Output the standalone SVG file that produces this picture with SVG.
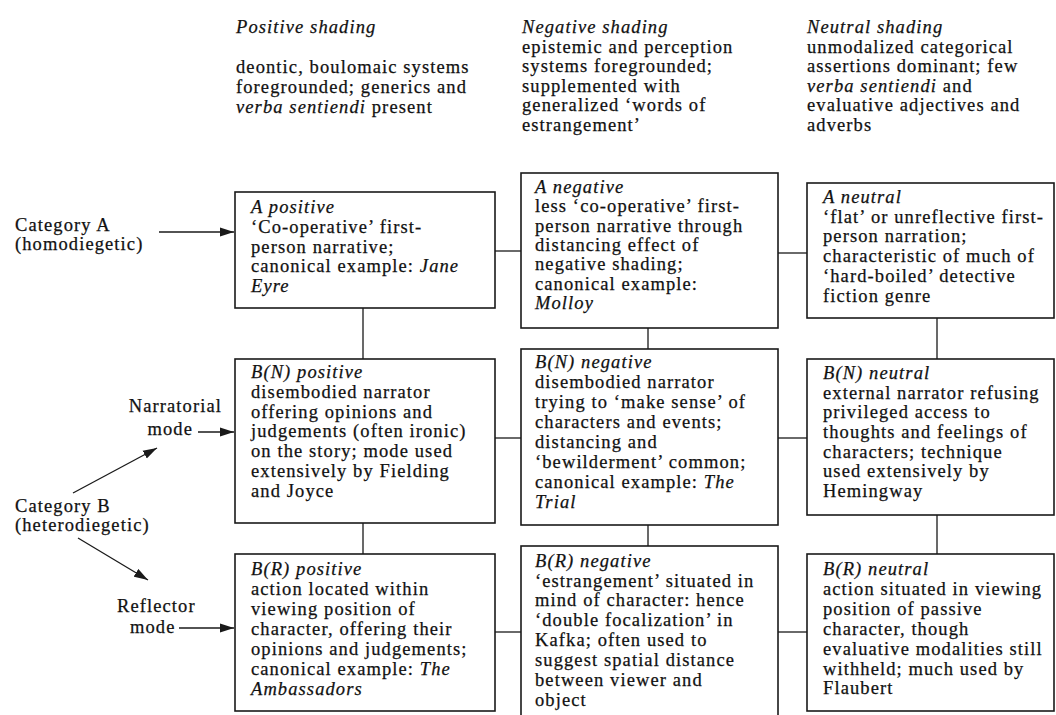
<svg xmlns="http://www.w3.org/2000/svg" width="1056" height="715" viewBox="0 0 1056 715">
<style>
text { font-family: "Liberation Serif", "Times New Roman", serif; font-size: 18.5px; fill: #111111; stroke: #111111; stroke-width: 0.25px; letter-spacing: 1.1px; }
.i { font-style: italic; }
.box { fill: #ffffff; stroke: #1a1a1a; stroke-width: 1.6; }
.ln { stroke: #1a1a1a; stroke-width: 1.3; fill: none; }
.ar { stroke: #1a1a1a; stroke-width: 1.3; fill: none; marker-end: url(#ah); }
</style>
<defs>
<marker id="ah" markerUnits="userSpaceOnUse" markerWidth="15" markerHeight="10" refX="14" refY="5" orient="auto">
<path d="M0,0.5 L14,5 L0,9.5 z" fill="#1a1a1a"/>
</marker>
</defs>
<rect width="1056" height="715" fill="#ffffff"/>

<g id="headers">
<text x="236" y="33" class="i">Positive shading</text>
<text x="236" y="73">deontic, boulomaic systems</text>
<text x="236" y="93">foregrounded; generics and</text>
<text x="236" y="113"><tspan class="i">verba sentiendi</tspan> present</text>

<text x="522" y="33" class="i">Negative shading</text>
<text x="522" y="53">epistemic and perception</text>
<text x="522" y="72">systems foregrounded;</text>
<text x="522" y="92">supplemented with</text>
<text x="522" y="111">generalized ‘words of</text>
<text x="522" y="131">estrangement’</text>

<text x="807" y="33" class="i">Neutral shading</text>
<text x="807" y="53">unmodalized categorical</text>
<text x="807" y="72">assertions dominant; few</text>
<text x="807" y="92"><tspan class="i">verba sentiendi</tspan> and</text>
<text x="807" y="111">evaluative adjectives and</text>
<text x="807" y="131">adverbs</text>
</g>

<g id="left-labels">
<text x="15" y="231">Category A</text>
<text x="15" y="250">(homodiegetic)</text>
<text x="222" y="412" text-anchor="end">Narratorial</text>
<text x="193" y="435" text-anchor="end">mode</text>
<text x="15" y="512">Category B</text>
<text x="15" y="531">(heterodiegetic)</text>
<text x="117" y="612">Reflector</text>
<text x="130" y="633">mode</text>
</g>

<g id="connectors">
<path class="ln" d="M495 251 H521"/>
<path class="ln" d="M778 253 H807"/>
<path class="ln" d="M495 438 H521"/>
<path class="ln" d="M778 438 H807"/>
<path class="ln" d="M495 632 H521"/>
<path class="ln" d="M778 632 H807"/>
<path class="ln" d="M363 308 V359 M363 523 V554"/>
<path class="ln" d="M648 328 V349 M648 525 V546"/>
<path class="ln" d="M937 318 V359 M937 515 V554"/>
<path class="ar" d="M159 232 H234"/>
<path class="ar" d="M198 432 H234"/>
<path class="ar" d="M73 493 L157 448"/>
<path class="ar" d="M78 538 L148 580"/>
<path class="ar" d="M179 628 H234"/>
</g>

<g id="a-positive">
<rect class="box" x="235" y="192" width="260" height="116"/>
<text x="251" y="213" class="i">A positive</text>
<text x="251" y="233">‘Co-operative’ first-</text>
<text x="251" y="253">person narrative;</text>
<text x="251" y="272">canonical example: <tspan class="i">Jane</tspan></text>
<text x="251" y="292" class="i">Eyre</text>
</g>

<g id="a-negative">
<rect class="box" x="521" y="173" width="257" height="155"/>
<text x="535" y="193" class="i">A negative</text>
<text x="535" y="212">less ‘co-operative’ first-</text>
<text x="535" y="232">person narrative through</text>
<text x="535" y="251">distancing effect of</text>
<text x="535" y="270">negative shading;</text>
<text x="535" y="290">canonical example:</text>
<text x="535" y="309" class="i">Molloy</text>
</g>

<g id="a-neutral">
<rect class="box" x="807" y="183" width="247" height="135"/>
<text x="823" y="203" class="i">A neutral</text>
<text x="823" y="223">‘flat’ or unreflective first-</text>
<text x="823" y="242">person narration;</text>
<text x="823" y="262">characteristic of much of</text>
<text x="823" y="282">‘hard-boiled’ detective</text>
<text x="823" y="302">fiction genre</text>
</g>

<g id="bn-positive">
<rect class="box" x="235" y="359" width="260" height="164"/>
<text x="251" y="378" class="i">B(N) positive</text>
<text x="251" y="398">disembodied narrator</text>
<text x="251" y="418">offering opinions and</text>
<text x="251" y="437">judgements (often ironic)</text>
<text x="251" y="457">on the story; mode used</text>
<text x="251" y="477">extensively by Fielding</text>
<text x="251" y="497">and Joyce</text>
</g>

<g id="bn-negative">
<rect class="box" x="521" y="349" width="257" height="176"/>
<text x="535" y="368" class="i">B(N) negative</text>
<text x="535" y="388">disembodied narrator</text>
<text x="535" y="408">trying to ‘make sense’ of</text>
<text x="535" y="428">characters and events;</text>
<text x="535" y="448">distancing and</text>
<text x="535" y="468">‘bewilderment’ common;</text>
<text x="535" y="488">canonical example: <tspan class="i">The</tspan></text>
<text x="535" y="508" class="i">Trial</text>
</g>

<g id="bn-neutral">
<rect class="box" x="807" y="359" width="247" height="156"/>
<text x="823" y="379" class="i">B(N) neutral</text>
<text x="823" y="399">external narrator refusing</text>
<text x="823" y="418">privileged access to</text>
<text x="823" y="438">thoughts and feelings of</text>
<text x="823" y="458">characters; technique</text>
<text x="823" y="477">used extensively by</text>
<text x="823" y="497">Hemingway</text>
</g>

<g id="br-positive">
<rect class="box" x="235" y="554" width="260" height="157"/>
<text x="251" y="575" class="i">B(R) positive</text>
<text x="251" y="595">action located within</text>
<text x="251" y="615">viewing position of</text>
<text x="251" y="635">character, offering their</text>
<text x="251" y="655">opinions and judgements;</text>
<text x="251" y="675">canonical example: <tspan class="i">The</tspan></text>
<text x="251" y="695" class="i">Ambassadors</text>
</g>

<g id="br-negative">
<rect class="box" x="521" y="546" width="257" height="172"/>
<text x="535" y="567" class="i">B(R) negative</text>
<text x="535" y="587">‘estrangement’ situated in</text>
<text x="535" y="606">mind of character: hence</text>
<text x="535" y="626">‘double focalization’ in</text>
<text x="535" y="646">Kafka; often used to</text>
<text x="535" y="666">suggest spatial distance</text>
<text x="535" y="686">between viewer and</text>
<text x="535" y="706">object</text>
</g>

<g id="br-neutral">
<rect class="box" x="807" y="554" width="247" height="157"/>
<text x="823" y="575" class="i">B(R) neutral</text>
<text x="823" y="595">action situated in viewing</text>
<text x="823" y="615">position of passive</text>
<text x="823" y="635">character, though</text>
<text x="823" y="655">evaluative modalities still</text>
<text x="823" y="675">withheld; much used by</text>
<text x="823" y="694">Flaubert</text>
</g>
</svg>
